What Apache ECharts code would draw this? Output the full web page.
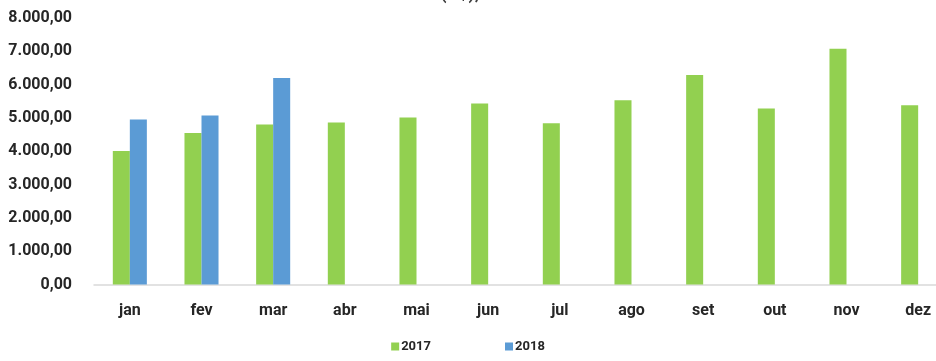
<!DOCTYPE html>
<html>
<head>
<meta charset="utf-8">
<script src="https://cdn.jsdelivr.net/npm/echarts@6/dist/echarts.min.js"></script>
<style>
  html, body { margin: 0; padding: 0; background: #fff; }
  #chart { width: 936px; height: 361px; }
</style>
</head>
<body>
<div id="chart"></div>
<script>
// Monthly values, 2017 vs 2018
const months = ['jan', 'fev', 'mar', 'abr', 'mai', 'jun', 'jul', 'ago', 'set', 'out', 'nov', 'dez'];
const values2017 = [4010, 4550, 4800, 4860, 5010, 5430, 4840, 5530, 6290, 5280, 7080, 5380];
const values2018 = [4950, 5070, 6200, null, null, null, null, null, null, null, null, null];
const yTicks = [0, 1000, 2000, 3000, 4000, 5000, 6000, 7000, 8000];

const FONT = 'Roboto, "Liberation Sans", sans-serif';

// pt-BR style number: 8.000,00
function fmtBR(v) {
  const parts = v.toFixed(2).split('.');
  parts[0] = parts[0].replace(/\B(?=(\d{3})+(?!\d))/g, '.');
  return parts.join(',');
}

const chart = echarts.init(document.getElementById('chart'), null, { renderer: 'canvas' });
chart.setOption({
  animation: false,
  backgroundColor: '#ffffff',
  title: {
    text: 'Valor (R$), mensal',
    left: 'center',
    top: -20,
    textStyle: { fontFamily: FONT, fontWeight: 'bold', fontSize: 18, color: '#404040' }
  },
  grid: { left: 94, right: -18, top: 18, bottom: 76.5, outerBoundsMode: 'none', containLabel: false },
  legend: {
    bottom: 3,
    left: 'center',
    itemWidth: 8,
    itemHeight: 8,
    itemGap: 74,
    icon: 'rect',
    textStyle: { fontFamily: FONT, fontWeight: 'bold', fontSize: 13, color: '#262626', padding: [0, 0, 0, -3] },
    data: ['2017', '2018']
  },
  xAxis: {
    type: 'category',
    data: months,
    axisLine: { lineStyle: { color: '#d9d9d9', width: 1.5 } },
    axisTick: { show: false },
    axisLabel: { fontFamily: FONT, fontWeight: 'bold', fontSize: 16, color: '#262626', margin: 18 }
  },
  yAxis: {
    type: 'value',
    min: yTicks[0],
    max: yTicks[yTicks.length - 1],
    interval: 1000,
    splitLine: { show: false },
    axisLine: { show: false },
    axisTick: { show: false },
    axisLabel: {
      fontFamily: FONT, fontWeight: 'bold', fontSize: 16, color: '#262626', margin: 22,
      formatter: v => fmtBR(v)
    }
  },
  series: [
    {
      name: '2017', type: 'bar', data: values2017,
      barGap: '0%', barCategoryGap: '52.5%',
      itemStyle: { color: '#92d050' }
    },
    {
      name: '2018', type: 'bar', data: values2018,
      itemStyle: { color: '#5b9bd5' }
    }
  ]
});
</script>
</body>
</html>
